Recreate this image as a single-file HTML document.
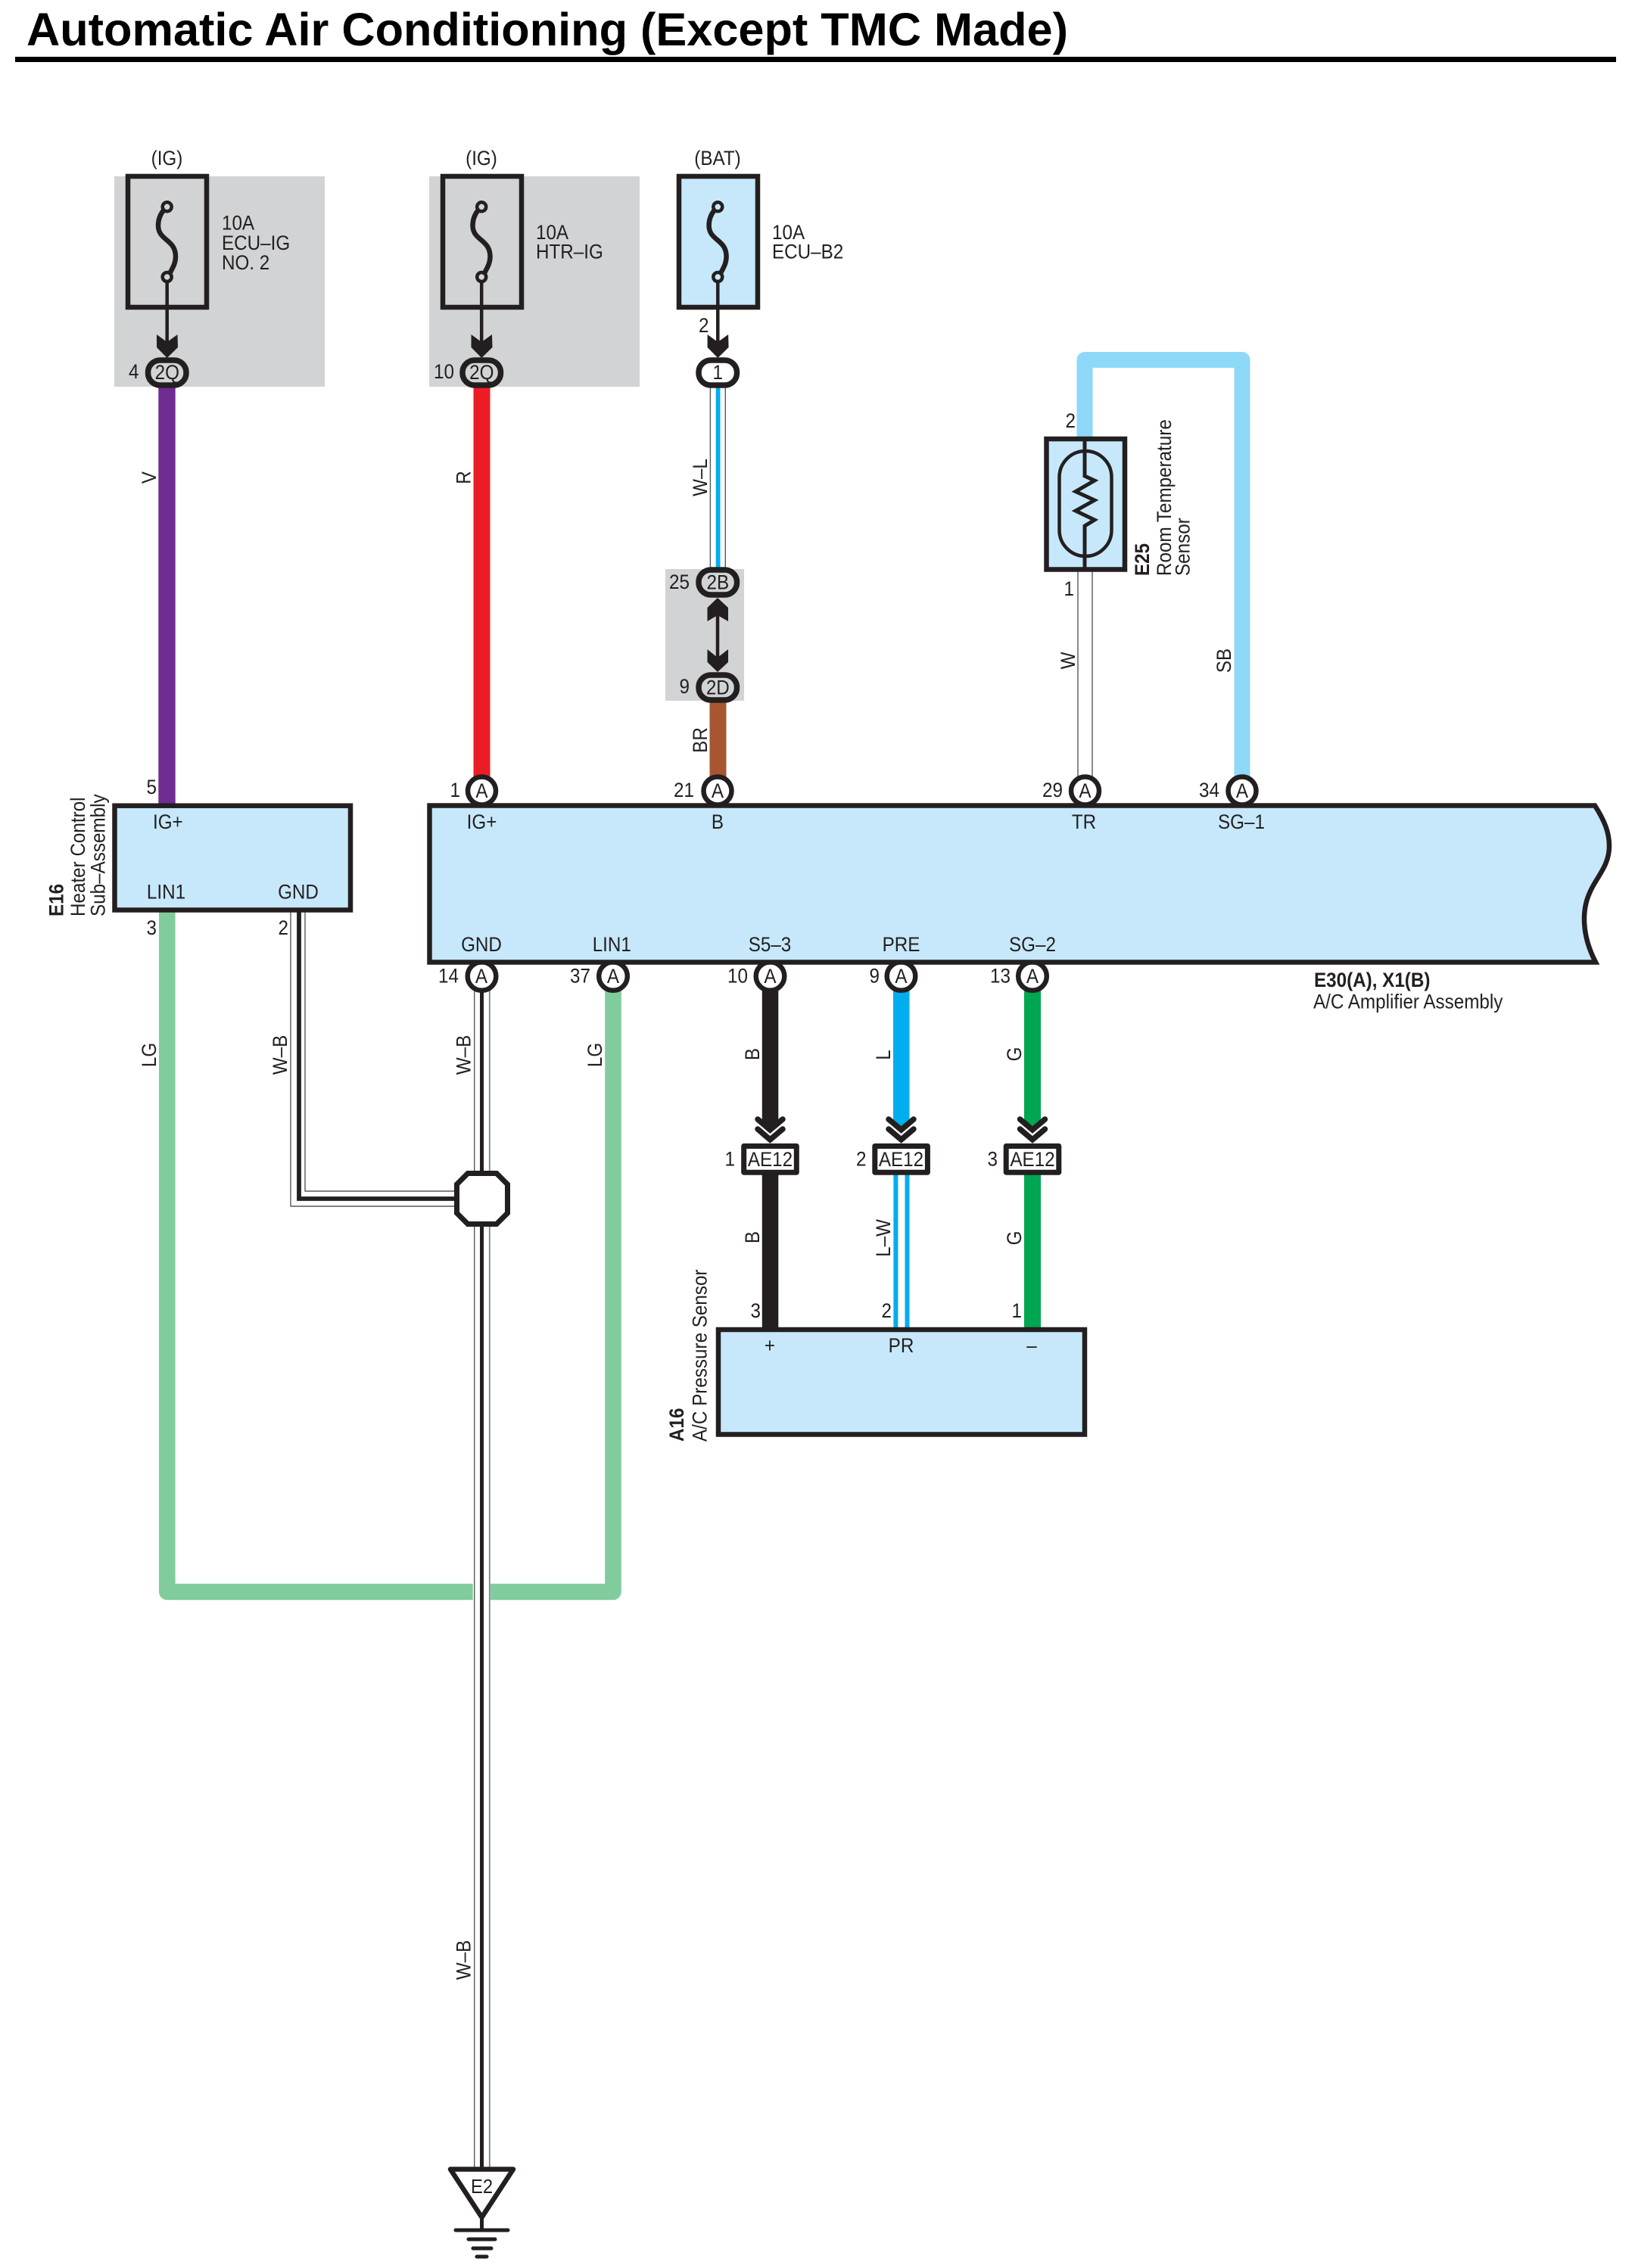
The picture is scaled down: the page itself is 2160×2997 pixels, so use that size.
<!DOCTYPE html>
<html><head><meta charset="utf-8"><title>Automatic Air Conditioning (Except TMC Made)</title>
<style>
html,body{margin:0;padding:0;background:#fff}
svg{display:block}
text{font-family:"Liberation Sans",sans-serif;font-size:26.5px;fill:#231f20;transform-box:fill-box;transform-origin:left center;transform:scaleX(.915)}
.c{text-anchor:middle;transform-origin:center}
.r{text-anchor:end;transform-origin:right center}
.b{font-weight:bold}
.ti{transform:none;font-size:61px;fill:#000;font-weight:bold}
.k{fill:none;stroke:#231f20;stroke-linejoin:miter;stroke-linecap:round}
.thin{stroke:#58595b;stroke-width:1.4;fill:none}
</style></head><body>
<svg xmlns="http://www.w3.org/2000/svg" width="2160" height="2997" viewBox="0 0 2160 2997">
<rect width="2160" height="2997" fill="#fff"/>
<text x="35" y="60" class="ti" textLength="1376" lengthAdjust="spacingAndGlyphs">Automatic Air Conditioning (Except TMC Made)</text>
<rect x="20" y="75" width="2115" height="7" fill="#000"/>

<!-- gray areas -->
<rect x="151" y="233" width="278" height="278" fill="#d1d3d4"/>
<rect x="567" y="233" width="278" height="278" fill="#d1d3d4"/>
<rect x="879" y="752" width="104" height="174" fill="#d1d3d4"/>

<!-- fuses -->
<rect x="169" y="233" width="104" height="173" fill="none" stroke="#231f20" stroke-width="6.5"/>
<rect x="585" y="233" width="104" height="173" fill="none" stroke="#231f20" stroke-width="6.5"/>
<rect x="897" y="233" width="104" height="173" fill="#c7e8fb" stroke="#231f20" stroke-width="6.5"/>
<g id="f1" fill="none" stroke="#231f20">
<path stroke-width="6.5" d="M216 278C212 283 209 290 209 298C209 318 232 316 232 339C232 348 228 354 225 360"/>
<circle cx="220.7" cy="273.3" r="6" stroke-width="4.5"/><circle cx="220.7" cy="366" r="6" stroke-width="4.5"/>
<path stroke-width="4.5" d="M220.7 372V452"/>
<path fill="#231f20" stroke="none" d="M207 442L220.7 452L234.500 442L235 459L220.7 473L207 459Z"/>
</g>
<g transform="translate(415.500 0)" fill="none" stroke="#231f20">
<path stroke-width="6.5" d="M216 278C212 283 209 290 209 298C209 318 232 316 232 339C232 348 228 354 225 360"/>
<circle cx="220.7" cy="273.3" r="6" stroke-width="4.5"/><circle cx="220.7" cy="366" r="6" stroke-width="4.5"/>
<path stroke-width="4.5" d="M220.7 372V452"/>
<path fill="#231f20" stroke="none" d="M207 442L220.7 452L234.500 442L235 459L220.7 473L207 459Z"/>
</g>
<g transform="translate(727.600 0)" fill="none" stroke="#231f20">
<path stroke-width="6.5" d="M216 278C212 283 209 290 209 298C209 318 232 316 232 339C232 348 228 354 225 360"/>
<circle cx="220.7" cy="273.3" r="6" stroke-width="4.5"/><circle cx="220.7" cy="366" r="6" stroke-width="4.5"/>
<path stroke-width="4.5" d="M220.7 372V452"/>
<path fill="#231f20" stroke="none" d="M207 442L220.7 452L234.500 442L235 459L220.7 473L207 459Z"/>
</g>

<!-- wires -->
<rect x="209.300" y="500" width="22.400" height="565" fill="#6f2c91"/>
<rect x="625.500" y="500" width="22" height="530" fill="#ed1c24"/>
<rect x="945.700" y="505" width="5.800" height="250" fill="#00aeef"/>
<path class="thin" d="M938.400 505V755M958.300 505V755"/>
<path d="M948 800V880" stroke="#231f20" stroke-width="4.500" fill="none"/>
<path fill="#231f20" d="M948 790L962 803V821L948 813L934.500 821V803Z"/>
<path fill="#231f20" d="M934.500 858L948 869L962 858V875L948 888L934.500 875Z"/>
<rect x="937.500" y="925" width="22" height="102" fill="#a65732"/>
<path fill="none" stroke="#8ed8f8" stroke-width="21" stroke-linejoin="round" d="M1433 590V475.500H1641V1030"/>
<path class="thin" d="M1424 750V1030M1443 750V1030"/>
<path fill="none" stroke="#80cc9c" stroke-width="21.600" stroke-linejoin="round" d="M220.800 1200V2103.500H810V1305"/>
<rect x="624.700" y="2088" width="23.300" height="30" fill="#fff"/>

<!-- W-B wires -->
<path class="thin" d="M384 1205V1594H605M403 1205V1574H605"/>
<path fill="none" stroke="#231f20" stroke-width="5.800" d="M395 1205V1584H605"/>
<path class="thin" d="M626.700 1305V2865"/>
<path d="M646.800 1305V2865" stroke="#808285" stroke-width="1.800" fill="none"/>
<rect x="634" y="1305" width="5" height="1560" fill="#231f20"/>

<!-- lower wires -->
<rect x="1006.800" y="1305" width="21.500" height="184" fill="#231f20"/>
<rect x="1180" y="1305" width="21.500" height="184" fill="#00aeef"/>
<rect x="1353" y="1305" width="22" height="184" fill="#00a651"/>
<rect x="1006.800" y="1550" width="21.500" height="206" fill="#231f20"/>
<rect x="1180.400" y="1550" width="6" height="206" fill="#00aeef"/>
<rect x="1195.500" y="1550" width="6" height="206" fill="#00aeef"/>
<rect x="1353" y="1550" width="22" height="206" fill="#00a651"/>
<g class="k" stroke-width="7.500">
<path d="M1001 1479L1017.400 1493L1034 1479M1001 1492L1017.400 1506L1034 1492"/>
<path d="M1174 1479L1190.600 1493L1207 1479M1174 1492L1190.600 1506L1207 1492"/>
<path d="M1347.500 1479L1364 1493L1380.500 1479M1347.500 1492L1364 1506L1380.500 1492"/>
</g>

<!-- oval connectors -->
<g stroke="#231f20" stroke-width="7.500">
<rect x="195.500" y="476" width="50.500" height="33" rx="16" fill="#d1d3d4"/>
<rect x="611" y="476" width="50.500" height="33" rx="16" fill="#d1d3d4"/>
<rect x="923" y="476" width="50.500" height="33" rx="16" fill="#fff"/>
<rect x="923" y="753" width="50.500" height="33" rx="16" fill="#d1d3d4"/>
<rect x="923" y="892" width="50.500" height="33" rx="16" fill="#d1d3d4"/>
</g>
<!-- A connectors -->
<g fill="#fff" stroke="#231f20" stroke-width="6.500">
<circle cx="636.500" cy="1045" r="18.500"/><circle cx="948" cy="1045" r="18.500"/><circle cx="1433.500" cy="1045" r="18.500"/><circle cx="1641" cy="1045" r="18.500"/>
<circle cx="636.500" cy="1290" r="18.800"/><circle cx="810" cy="1290" r="18.800"/><circle cx="1017.500" cy="1290" r="18.800"/><circle cx="1190.500" cy="1290" r="18.800"/><circle cx="1364" cy="1290" r="18.800"/>
</g>

<!-- boxes -->
<rect x="151.500" y="1064.700" width="311.500" height="137.800" fill="#c7e8fb" stroke="#231f20" stroke-width="6.500"/>
<path d="M567.500 1064.500H2107C2120 1085 2126 1100 2126 1118C2126 1145 2108 1160 2100 1180C2090 1202 2089 1235 2108 1271.500H567.500Z" fill="#c7e8fb" stroke="#231f20" stroke-width="6.500"/>
<rect x="949" y="1757" width="484" height="138.500" fill="#c7e8fb" stroke="#231f20" stroke-width="6.500"/>

<!-- sensor -->
<rect x="1382.500" y="580" width="103.500" height="172.500" fill="#c7e8fb" stroke="#231f20" stroke-width="6.500"/>
<rect x="1399.500" y="596" width="69" height="139" rx="34.500" fill="none" stroke="#231f20" stroke-width="4.500"/>
<path fill="none" stroke="#231f20" stroke-width="5" stroke-linejoin="miter" d="M1433 580V629L1446 635L1421 649.500L1446 661L1421 675L1446 687L1433 695V752"/>

<!-- AE12 boxes -->
<g fill="#fff" stroke="#231f20" stroke-width="7" stroke-linejoin="round">
<rect x="982.700" y="1514.500" width="69.600" height="34.700"/>
<rect x="1155.800" y="1514.500" width="69.600" height="34.700"/>
<rect x="1329.200" y="1514.500" width="69.600" height="34.700"/>
</g>

<!-- octagon -->
<path d="M618 1550.500H656L670.500 1565V1603L656 1617.500H618L603.500 1603V1565Z" fill="#fff" stroke="#231f20" stroke-width="7"/>

<!-- ground -->
<path d="M595 2866.500H678L636.500 2930Z" fill="#fff" stroke="#231f20" stroke-width="6.500" stroke-linejoin="round"/>
<g stroke="#231f20" stroke-width="5" stroke-linecap="round" fill="none">
<path d="M636.500 2932V2947M602 2947H671M619 2959H654M625 2971H649M630 2982H643"/>
</g>

<!-- top labels -->
<text x="220.500" y="218" class="c">(IG)</text>
<text x="636" y="218" class="c">(IG)</text>
<text x="948" y="218" class="c">(BAT)</text>
<text x="293" y="303.500">10A</text><text x="293" y="330">ECU–IG</text><text x="293" y="356">NO. 2</text>
<text x="708" y="316">10A</text><text x="708" y="341.500">HTR–IG</text>
<text x="1020" y="316">10A</text><text x="1020" y="341.500">ECU–B2</text>
<text x="936.500" y="439" class="r">2</text>
<text x="183.500" y="500" class="r">4</text>
<text x="600" y="500" class="r">10</text>
<text x="220.800" y="501" class="c">2Q</text>
<text x="636.300" y="501" class="c">2Q</text>
<text x="948.300" y="501" class="c">1</text>
<text x="911" y="778" class="r">25</text><text x="948.300" y="778.500" class="c">2B</text>
<text x="911" y="916" class="r">9</text><text x="948.300" y="917.500" class="c">2D</text>

<!-- pins -->
<text x="207" y="1049" class="r">5</text>
<text x="207" y="1235" class="r">3</text>
<text x="381" y="1235" class="r">2</text>
<text x="608" y="1053" class="r">1</text>
<text x="917" y="1053" class="r">21</text>
<text x="1404" y="1053" class="r">29</text>
<text x="1611" y="1053" class="r">34</text>
<text x="636.500" y="1054" class="c">A</text><text x="948" y="1054" class="c">A</text><text x="1433.500" y="1054" class="c">A</text><text x="1641" y="1054" class="c">A</text>
<text x="636" y="1299" class="c">A</text><text x="810" y="1299" class="c">A</text><text x="1017.500" y="1299" class="c">A</text><text x="1190.500" y="1299" class="c">A</text><text x="1364" y="1299" class="c">A</text>
<text x="606" y="1298.500" class="r">14</text>
<text x="780" y="1298.500" class="r">37</text>
<text x="988" y="1298.500" class="r">10</text>
<text x="1162" y="1298.500" class="r">9</text>
<text x="1335" y="1298.500" class="r">13</text>
<text x="1421" y="565" class="r">2</text>
<text x="1419" y="787" class="r">1</text>

<!-- box labels -->
<text x="202" y="1095">IG+</text>
<text x="219.500" y="1187.500" class="c">LIN1</text>
<text x="394" y="1187.500" class="c">GND</text>
<text x="636.500" y="1095" class="c">IG+</text>
<text x="948" y="1095" class="c">B</text>
<text x="1432" y="1095" class="c">TR</text>
<text x="1640" y="1095" class="c">SG–1</text>
<text x="636" y="1257" class="c">GND</text>
<text x="808.300" y="1257" class="c">LIN1</text>
<text x="1017" y="1257" class="c">S5–3</text>
<text x="1190.500" y="1257" class="c">PRE</text>
<text x="1364" y="1257" class="c">SG–2</text>
<text x="1736" y="1304" class="b">E30(A), X1(B)</text>
<text x="1735" y="1332.500">A/C Amplifier Assembly</text>

<text x="1017.500" y="1541" class="c">AE12</text>
<text x="1190.500" y="1541" class="c">AE12</text>
<text x="1364" y="1541" class="c">AE12</text>
<text x="971" y="1540.500" class="r">1</text>
<text x="1144.500" y="1540.500" class="r">2</text>
<text x="1318" y="1540.500" class="r">3</text>
<text x="1005" y="1741" class="r">3</text>
<text x="1178" y="1741" class="r">2</text>
<text x="1350" y="1741" class="r">1</text>
<text x="1017" y="1787" class="c">+</text>
<text x="1190.500" y="1787" class="c">PR</text>
<text x="1363" y="1787" class="c">–</text>

<!-- rotated wire labels -->
<g transform="translate(206 631) rotate(-90)"><text class="c">V</text></g>
<g transform="translate(621.500 631) rotate(-90)"><text class="c">R</text></g>
<g transform="translate(934 631) rotate(-90)"><text class="c">W–L</text></g>
<g transform="translate(934 978) rotate(-90)"><text class="c">BR</text></g>
<g transform="translate(1420 873) rotate(-90)"><text class="c">W</text></g>
<g transform="translate(1626 873) rotate(-90)"><text class="c">SB</text></g>
<g transform="translate(206 1394) rotate(-90)"><text class="c">LG</text></g>
<g transform="translate(379 1394) rotate(-90)"><text class="c">W–B</text></g>
<g transform="translate(621.500 1394) rotate(-90)"><text class="c">W–B</text></g>
<g transform="translate(795 1394) rotate(-90)"><text class="c">LG</text></g>
<g transform="translate(1003 1393) rotate(-90)"><text class="c">B</text></g>
<g transform="translate(1176 1394) rotate(-90)"><text class="c">L</text></g>
<g transform="translate(1349 1393) rotate(-90)"><text class="c">G</text></g>
<g transform="translate(1003 1635) rotate(-90)"><text class="c">B</text></g>
<g transform="translate(1176 1636) rotate(-90)"><text class="c">L–W</text></g>
<g transform="translate(1349 1636) rotate(-90)"><text class="c">G</text></g>
<g transform="translate(621.500 2590) rotate(-90)"><text class="c">W–B</text></g>

<!-- rotated component labels -->
<g transform="translate(83.300 1211) rotate(-90)"><text class="b">E16</text></g>
<g transform="translate(112 1211) rotate(-90)"><text>Heater Control</text></g>
<g transform="translate(138.300 1211) rotate(-90)"><text>Sub–Assembly</text></g>
<g transform="translate(1518 761) rotate(-90)"><text class="b">E25</text></g>
<g transform="translate(1547 761) rotate(-90)"><text>Room Temperature</text></g>
<g transform="translate(1571.500 761) rotate(-90)"><text>Sensor</text></g>
<g transform="translate(903 1905) rotate(-90)"><text class="b">A16</text></g>
<g transform="translate(933.500 1905) rotate(-90)"><text>A/C Pressure Sensor</text></g>

<!-- ground label -->
<text x="636.500" y="2898" class="c" style="font-size:26px">E2</text>
</svg>
</body></html>
